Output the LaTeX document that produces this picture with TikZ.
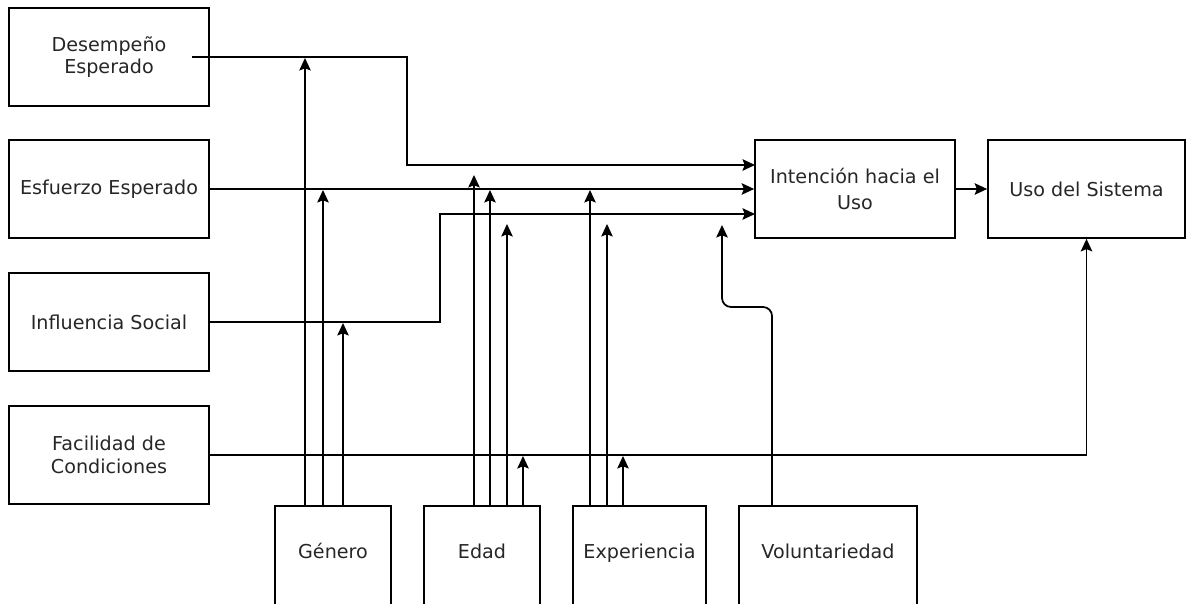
\documentclass[tikz,border=0pt]{standalone}
\usepackage{fontspec}
\setmainfont{DejaVu Sans}
\usetikzlibrary{arrows.meta}

\tikzset{
    box/.style={draw, line width=1pt, minimum width=4cm, minimum height=1.96cm, align=center,
        text=black!85, font=\fontsize{10.9}{13}\selectfont},
    factor/.style={draw, line width=1pt, anchor=north, inner ysep=0pt, text height=1.06cm,
        text depth=1.4cm, text=black!85, font=\fontsize{10.9}{13}\selectfont},
    flow/.style={line width=1pt, -{Stealth[length=2.5mm, width=2.3mm, inset=0.45mm]}}
}

\begin{document}
\begin{tikzpicture}[x=0.02cm, y=-0.02cm]
            \clip (0,0) rectangle (1186,604);
            % constructos
            \node[box] (desemp) at (109,57) {Desempeño\\Esperado};
            \node[box] (esfuerzo) at (109,189) {Esfuerzo Esperado};
            \node[box] (influencia) at (109,322) {Influencia Social};
            \node[box] (facilidad) at (109,455) {Facilidad de\\Condiciones};
            \node[box] (intencion) at (855,189) {Intención hacia el\\[2pt]Uso};
            \node[box, minimum width=3.94cm] (uso) at (1086.5,189) {Uso del Sistema};
            % moderadores
            \node[factor, minimum width=2.32cm] (genero) at (333,505) {Género};
            \node[factor, minimum width=2.32cm] (edad) at (482,505) {Edad};
            \node[factor, minimum width=2.66cm] (experiencia) at (639.5,505) {Experiencia};
            \node[factor, minimum width=3.56cm] (volunt) at (828,505) {Voluntariedad};

            \coordinate (desStart) at (192,57);
            \coordinate (desBend) at (407,165);
            \coordinate (inA) at (755,165);
            \coordinate (infBend) at (440,214);
            \coordinate (inC) at (755,214);

            \draw[flow] (desStart) -| (desBend) -- (inA);
            \draw[flow] (esfuerzo.east) -- (intencion.west);
            \draw[flow] (influencia.east) -| (infBend) -- (inC);
            \draw[flow] (facilidad.east) -| (uso.south);
            \draw[flow] (intencion.east) -- (uso.west);

            \coordinate (genA) at (305,58);
            \coordinate (genB) at (323,190);
            \coordinate (genC) at (343,323);
            \coordinate (edA) at (474,175);
            \coordinate (edB) at (490,190);
            \coordinate (edC) at (507,224);
            \coordinate (edD) at (523,456);
            \coordinate (expA) at (590,190);
            \coordinate (expB) at (607,224);
            \coordinate (expC) at (623,456);
            \coordinate (volBend) at (772,307);
            \coordinate (volTip) at (722,225);

            \foreach \t in {genA,genB,genC} {
                \draw[flow] (genero.north -| \t) -- (\t);
            }
            \foreach \t in {edA,edB,edC,edD} {
                \draw[flow] (edad.north -| \t) -- (\t);
            }
            \foreach \t in {expA,expB,expC} {
                \draw[flow] (experiencia.north -| \t) -- (\t);
            }
            \draw[flow, rounded corners=0.18cm] (volunt.north -| volBend) -- (volBend) -| (volTip);
        \end{tikzpicture}
\end{document}
